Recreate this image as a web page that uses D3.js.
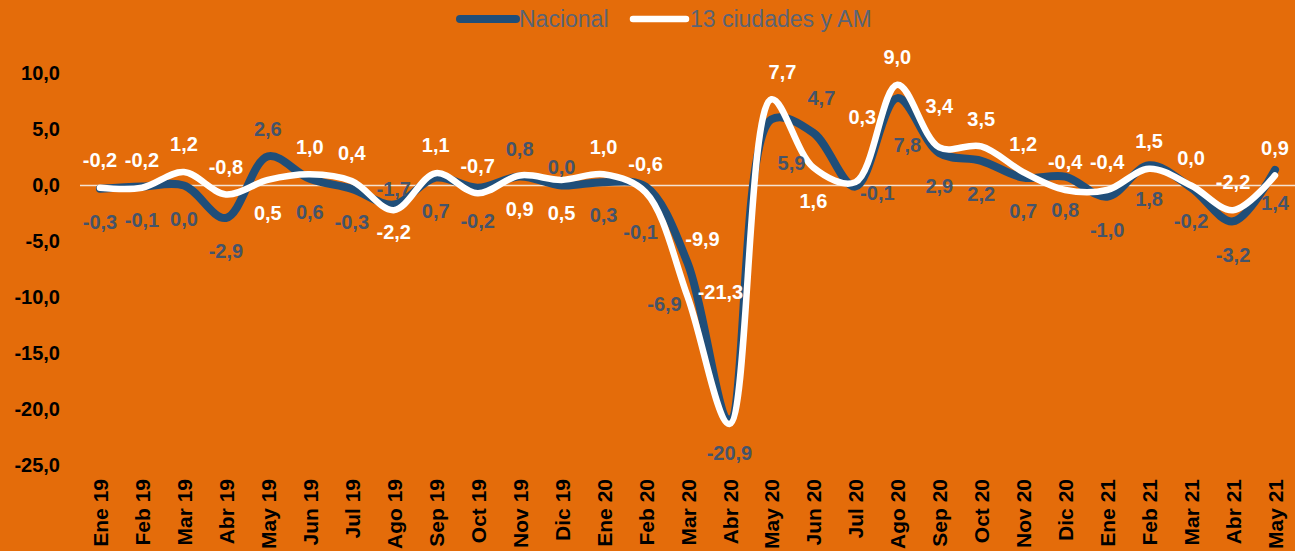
<!DOCTYPE html>
<html lang="es">
<head>
<meta charset="UTF-8">
<title>Nacional vs 13 ciudades y AM</title>
<script src="https://d3js.org/d3.v7.min.js"></script>
<style>
  html, body { margin: 0; padding: 0; background: #E46C0A; }
  svg { display: block; font-family: "Liberation Sans", Arial, sans-serif; }
</style>
</head>
<body>
<div id="chart"></div>
<script>
const meses = ["Ene 19","Feb 19","Mar 19","Abr 19","May 19","Jun 19","Jul 19","Ago 19","Sep 19","Oct 19","Nov 19","Dic 19",
  "Ene 20","Feb 20","Mar 20","Abr 20","May 20","Jun 20","Jul 20","Ago 20","Sep 20","Oct 20","Nov 20","Dic 20",
  "Ene 21","Feb 21","Mar 21","Abr 21","May 21"];
const nacional = [-0.3,-0.1,0.0,-2.9,2.6,0.6,-0.3,-1.7,0.7,-0.2,0.8,0.0,
  0.3,-0.1,-6.9,-20.9,5.9,4.7,-0.1,7.8,2.9,2.2,0.7,0.8,
  -1.0,1.8,-0.2,-3.2,1.4];
const ciudades = [-0.2,-0.2,1.2,-0.8,0.5,1.0,0.4,-2.2,1.1,-0.7,0.9,0.5,
  1.0,-0.6,-9.9,-21.3,7.7,1.6,0.3,9.0,3.4,3.5,1.2,-0.4,
  -0.4,1.5,0.0,-2.2,0.9];
const yTicks = [10,5,0,-5,-10,-15,-20,-25];
const serieNombres = ["Nacional","13 ciudades y AM"];

// meses donde la etiqueta de Nacional va arriba
const nacionalArriba = ["May 19","Ago 19","Nov 19","Dic 19","Jun 20"];
// ajustes manuales de etiquetas (como en el original)
const ajustes = {
  "n-7": {dy:-16}, "c-7": {dy:22}, "n-11": {dy:-19}, "n-13": {dx:-5, dy:45},
  "c-14": {dx:15, dy:-58}, "n-14": {dx:-23, dy:41}, "c-15": {dx:-9, dy:-132},
  "c-16": {dx:11, dy:-27}, "n-16": {dx:20, dy:43}, "n-17": {dx:8, dy:-35},
  "c-18": {dx:7, dy:-65}, "n-18": {dx:22, dy:6}, "n-19": {dx:10, dy:47}, "c-20": {dy:-42}
};

const W = 1295, H = 551;
const azul = "#1F4E79", blanco = "#FFFFFF", grisAzul = "#44546A";

const loc = d3.formatLocale({decimal: ",", thousands: ".", grouping: [3], currency: ["$",""], minus: "-"});
const fmt = loc.format(".1f");

const svg = d3.select("#chart").append("svg")
  .attr("width", W).attr("height", H);

svg.append("rect").attr("width", W).attr("height", H).attr("fill", "#E46C0A");

const x = d3.scalePoint().domain(meses).range([100, 1275]);
const y = d3.scaleLinear().domain([-25, 10]).range([465.5, 73.5]);

// eje y
const yAxis = svg.append("g")
  .attr("transform", "translate(80,0)")
  .call(d3.axisLeft(y).tickValues(yTicks).tickFormat(fmt).tickSize(0).tickPadding(20));
yAxis.select(".domain").remove();
yAxis.selectAll("text")
  .attr("fill", "#000").style("font-size", "20px").style("font-weight", "bold")
  .style("font-family", "'Liberation Sans', Arial, sans-serif");

// línea del cero
svg.append("line")
  .attr("x1", 80).attr("x2", W)
  .attr("y1", y(0)).attr("y2", y(0))
  .attr("stroke", "#F4E2D2").attr("stroke-width", 1.5);

// eje x
const xAxis = svg.append("g")
  .attr("transform", "translate(0,479)")
  .call(d3.axisBottom(x).tickSize(0));
xAxis.select(".domain").remove();
xAxis.selectAll("text")
  .attr("x", 0).attr("y", 0).attr("dy", "0.36em")
  .attr("transform", "rotate(-90)")
  .style("text-anchor", "end")
  .attr("fill", "#000").style("font-size", "21px").style("font-weight", "bold")
  .style("font-family", "'Liberation Sans', Arial, sans-serif");

const line = d3.line()
  .x((d, i) => x(meses[i]))
  .y(d => y(d))
  .curve(d3.curveCatmullRom.alpha(0.5));

svg.append("path").datum(nacional)
  .attr("d", line).attr("fill", "none")
  .attr("stroke", azul).attr("stroke-width", 8)
  .attr("stroke-linecap", "round").attr("stroke-linejoin", "round");

svg.append("path").datum(ciudades)
  .attr("d", line).attr("fill", "none")
  .attr("stroke", blanco).attr("stroke-width", 6.5)
  .attr("stroke-linecap", "round").attr("stroke-linejoin", "round");

// etiquetas de datos
function etiquetas(valores, clave, color) {
  svg.append("g").selectAll("text")
    .data(valores)
    .join("text")
    .attr("x", (d, i) => {
      const a = ajustes[clave + "-" + i] || {};
      return x(meses[i]) + (a.dx || 0);
    })
    .attr("y", (d, i) => {
      const a = ajustes[clave + "-" + i] || {};
      let arriba = nacionalArriba.includes(meses[i]);
      if (clave === "c") arriba = !arriba;
      const off = a.dy !== undefined ? a.dy : (arriba ? -28 : 33);
      return y(d) + off;
    })
    .attr("dy", "0.36em")
    .attr("text-anchor", "middle")
    .attr("fill", color)
    .style("font-size", "20px").style("font-weight", "bold")
    .text(d => fmt(d));
}
etiquetas(nacional, "n", grisAzul);
etiquetas(ciudades, "c", blanco);

// leyenda
const ley = svg.append("g");
const items = [
  {nombre: serieNombres[0], color: azul, ancho: 8, x1: 460, x2: 516, tx: 519},
  {nombre: serieNombres[1], color: blanco, ancho: 6.5, x1: 633, x2: 686, tx: 690}
];
items.forEach(it => {
  ley.append("line")
    .attr("x1", it.x1).attr("x2", it.x2).attr("y1", 19).attr("y2", 19)
    .attr("stroke", it.color).attr("stroke-width", it.ancho).attr("stroke-linecap", "round");
  ley.append("text")
    .attr("x", it.tx).attr("y", 19).attr("dy", "0.36em")
    .attr("fill", "#5A6475").style("font-size", "23px")
    .text(it.nombre);
});
</script>
</body>
</html>
